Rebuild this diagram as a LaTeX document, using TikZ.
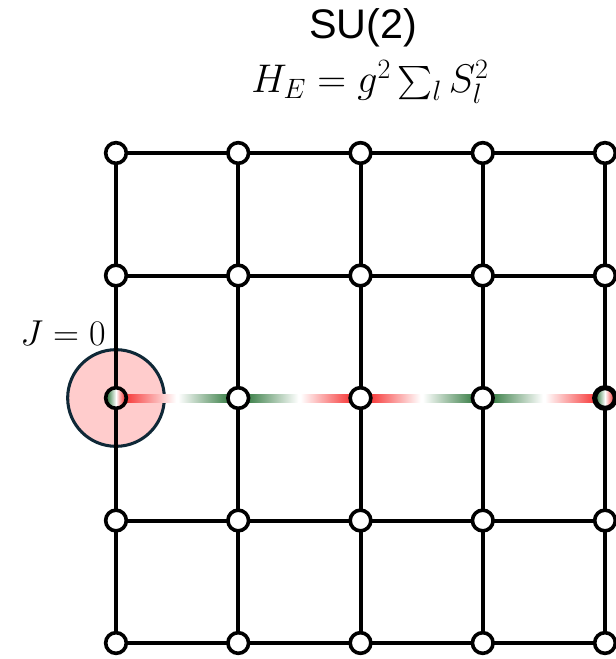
\RequirePackage{fix-cm}
\documentclass[tikz,border=0pt]{standalone}
\usepackage{amsmath}
\usepackage{fontspec}
\setsansfont{Liberation Sans}
\usetikzlibrary{positioning, calc}
\definecolor{strred}{RGB}{245,20,20}
\definecolor{strgreen}{RGB}{25,105,40}
\definecolor{chargepink}{RGB}{255,204,204}
\definecolor{chargeedge}{RGB}{15,40,55}
\pgfdeclarehorizontalshading{endsite}{100bp}{
  color(0bp)=(strgreen); color(30bp)=(strgreen!80); color(50bp)=(white);
  color(70bp)=(strred!80); color(100bp)=(strred)}

\begin{document}
\begin{tikzpicture}[
    x=0.75pt, y=-0.75pt,
    site/.style={
      circle, draw=black, fill=white, line width=2.7pt,
      minimum size=15.5pt, inner sep=0pt
    },
    bond/.style={line width=3pt, black},
    charge/.style={
      circle, draw=chargeedge, fill=chargepink, line width=2.3pt,
      minimum size=72.5pt, inner sep=0pt
    },
    bigtext/.style={font=\fontsize{30}{36}\selectfont, inner sep=0pt},
]
    \useasboundingbox (0,0) rectangle (615,659);

    % lattice points
    \foreach \i in {1,...,5}
      \foreach \j in {1,...,5}
        \coordinate (p-\i-\j) at ({116+(\i-1)*122.25}, {153+(\j-1)*122.5});

    % static charge
    \node[charge] (charge) at (p-1-3) {};

    % plaquette links
    \foreach \i in {1,...,5}
      \draw[bond] (p-\i-1) -- (p-\i-5);
    \foreach \j in {1,2,4,5}
      \draw[bond] (p-1-\j) -- (p-5-\j);

    % flux string
    \foreach \i/\k/\ca/\cb in {1/2/strred/strgreen, 2/3/strgreen/strred,
                               3/4/strred/strgreen, 4/5/strgreen/strred} {
      \shade[left color=\ca, right color=white]
        ($(p-\i-3)+(0,-4)$) rectangle ($(p-\i-3)!0.5!(p-\k-3)+(-1,4)$);
      \shade[left color=white, right color=\cb]
        ($(p-\i-3)!0.5!(p-\k-3)+(1,-4)$) rectangle ($(p-\k-3)+(0,4)$);
    }

    % sites
    \foreach \i in {1,...,5}
      \foreach \j in {1,2,4,5}
        \node[site] (n-\i-\j) at (p-\i-\j) {};
    \foreach \i in {2,3,4}
      \node[site] (n-\i-3) at (p-\i-3) {};
    \node[site, shading=endsite] (n-1-3) at (p-1-3) {};
    \node[site, line width=3.8pt, shading=endsite] (n-5-3) at (p-5-3) {};

    % Labels
    \node[bigtext, font=\sffamily\fontsize{31}{36}\selectfont, anchor=base]
      (group) at (363,39) {SU(2)};
    \node[bigtext, anchor=base, text height=0.8em] (hamiltonian) at (370,93)
      {$H_E = g^2 \sum_l S_l^2$};
    \node[bigtext, font=\fontsize{27}{32}\selectfont, anchor=base]
      (jlabel) at (63,345) {$J = 0$};
\end{tikzpicture}
\end{document}
